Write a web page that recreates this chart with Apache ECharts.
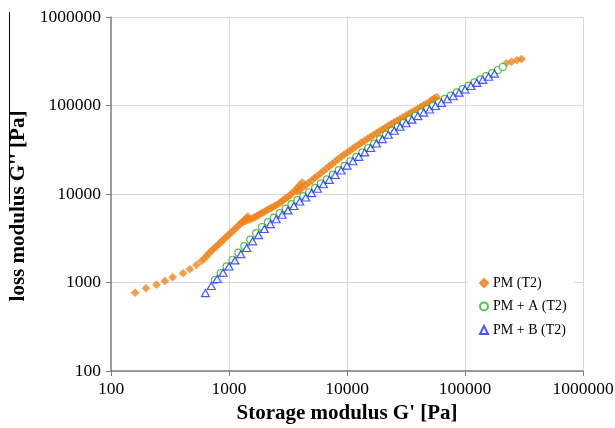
<!DOCTYPE html>
<html>
<head>
<meta charset="utf-8">
<title>Loss modulus vs storage modulus</title>
<script src="https://cdn.jsdelivr.net/npm/echarts@6/dist/echarts.min.js"></script>
<style>
  html, body { margin: 0; padding: 0; background: #fff; }
  #chart { width: 615px; height: 428px; }
</style>
</head>
<body>
<div id="chart"></div>
<script>
// Decade tick labels shared by both logarithmic axes
const tickLabels = ['100', '1000', '10000', '100000', '1000000'];

const seriesNames = ['PM (T2)', 'PM + A (T2)', 'PM + B (T2)'];

// PM (T2): [G' (Pa), G'' (Pa)]
const pmLowEnd = [
  [160, 767], [198, 859], [243, 944], [286, 1040], [333, 1145],
  [408, 1270], [466, 1410], [530, 1577], [585, 1750]
];
const pmRunA = [
  [617, 1862], [646, 1995], [676, 2138], [708, 2265], [741, 2399],
  [776, 2541], [813, 2692], [851, 2851], [891, 3020], [933, 3199],
  [977, 3388], [1023, 3589], [1072, 3802], [1122, 4027], [1175, 4266],
  [1230, 4519], [1288, 4786], [1349, 5070], [1413, 5370], [1445, 5559]
];
const pmRunB = [
  [1318, 4842], [1380, 4955], [1445, 5070], [1514, 5188], [1585, 5309],
  [1660, 5495], [1738, 5689], [1820, 5888], [1905, 6095], [1995, 6310],
  [2089, 6531], [2188, 6761], [2291, 6998], [2399, 7244], [2512, 7499],
  [2630, 7762], [2754, 8128], [2884, 8511], [3020, 8913], [3162, 9333],
  [3311, 9772], [3467, 10350], [3631, 10960], [3802, 11750], [3981, 12590],
  [4169, 13490]
];
const pmRunC = [
  [3802, 10720], [3981, 11220], [4217, 11890], [4467, 12590], [4732, 13400],
  [5012, 14220], [5309, 15140], [5623, 16110], [5957, 17100], [6310, 18200],
  [6683, 19360], [7079, 20560], [7499, 21880], [7943, 23280], [8414, 24720],
  [8913, 26300], [9441, 27730], [10000, 29310], [10590, 30900], [11220, 32580],
  [11890, 34430], [12590, 36310], [13340, 38190], [14130, 40090], [14960, 42170],
  [15850, 44360], [16790, 46560], [17780, 48980], [18840, 51290], [19950, 53700],
  [21130, 56230], [22390, 58880], [23710, 61660], [25120, 64570], [26610, 67450],
  [28180, 70470], [29850, 73620], [31620, 77090], [33500, 80540], [35480, 84140],
  [37580, 87900], [39810, 91830], [42170, 95940], [44670, 100500], [47320, 105000],
  [50120, 109600], [52480, 116100], [54950, 120200], [57540, 124500]
];
const pmHighEnd = [
  [223900, 300600], [248300, 312600], [275400, 325100], [302000, 335000]
];

// PM + A (T2)
const pmA = [
  [759, 1067], [851, 1279], [955, 1521], [1072, 1807], [1202, 2173],
  [1349, 2582], [1514, 3055], [1698, 3606], [1905, 4236], [2138, 4819],
  [2399, 5408], [2692, 6095], [3020, 6839], [3388, 7674], [3802, 8511],
  [4266, 9484], [4786, 10470], [5370, 11750], [6026, 13180], [6761, 14620],
  [7586, 16520], [8511, 18620], [9550, 20800], [10720, 23440], [12020, 26300],
  [13490, 29510], [15140, 33110], [16980, 37150], [19050, 41690], [21380, 46770],
  [23990, 52120], [26920, 57810], [30200, 63680], [33880, 69820], [38020, 76560],
  [42660, 83950], [47860, 91410], [53700, 99770], [60260, 108600], [67610, 118600],
  [75860, 129100], [85110, 140900], [95500, 153500], [107200, 167500], [120200, 182400],
  [134900, 197700], [151400, 214300], [169800, 232300], [190500, 251800], [208900, 272300]
];

// PM + B (T2)
const pmB = [
  [631, 759], [708, 912], [794, 1096], [891, 1288], [1000, 1514],
  [1122, 1778], [1259, 2089], [1413, 2455], [1585, 2917], [1778, 3428],
  [1995, 4027], [2239, 4571], [2512, 5188], [2818, 5821], [3162, 6531],
  [3548, 7328], [3981, 8222], [4467, 9120], [5012, 10230], [5623, 11480],
  [6310, 12880], [7079, 14450], [7943, 16410], [8913, 18410], [10000, 20890],
  [11220, 23440], [12590, 26300], [14130, 29510], [15850, 33110], [17780, 37150],
  [19950, 41690], [22390, 46770], [25120, 51880], [28180, 57540], [31620, 63100],
  [35480, 69180], [39810, 75860], [44670, 83180], [50120, 90160], [56230, 98860],
  [63100, 107200], [70790, 117500], [79430, 127400], [89130, 139600], [100000, 151400],
  [112200, 166000], [125900, 179900], [141300, 195000], [158500, 211300], [177800, 229100]
];

const pmAll = pmLowEnd.concat(pmRunA, pmRunB, pmRunC, pmHighEnd);

const serif = "'Liberation Serif', 'Times New Roman', serif";

function decadeLabel(v) {
  const i = Math.round(Math.log10(v)) - 2;
  return tickLabels[i] !== undefined ? tickLabels[i] : '';
}

const gridColor = '#D9D9D9';
const axisColor = '#808080';

function logAxis(extra) {
  return Object.assign({
    type: 'log',
    logBase: 10,
    min: 100,
    max: 1000000,
    splitNumber: 4,
    axisLine: { show: true, lineStyle: { color: axisColor, width: 1.5 } },
    axisTick: { show: true, inside: false, length: 5, lineStyle: { color: axisColor, width: 1 } },
    minorTick: { show: false },
    splitLine: { show: true, lineStyle: { color: gridColor, width: 1 } },
    axisLabel: {
      formatter: decadeLabel,
      color: '#000',
      fontFamily: serif,
      fontSize: 17.5
    },
    nameTextStyle: {
      color: '#000',
      fontFamily: serif,
      fontSize: 21,
      fontWeight: 'bold'
    }
  }, extra);
}

const chart = echarts.init(document.getElementById('chart'), null, { renderer: 'canvas' });

chart.setOption({
  animation: false,
  backgroundColor: '#fff',
  grid: { left: 111, right: 32, top: 17, bottom: 57, containLabel: false, outerBoundsMode: 'none' },
  xAxis: logAxis({
    name: "Storage modulus G' [Pa]",
    nameLocation: 'middle',
    nameGap: 31,
    axisLabel: { formatter: decadeLabel, color: '#000', fontFamily: serif, fontSize: 17.5, margin: 9 }
  }),
  yAxis: logAxis({
    name: "loss modulus G'' [Pa]",
    nameLocation: 'middle',
    nameGap: 82,
    nameRotate: 90,
    axisLabel: { formatter: decadeLabel, color: '#000', fontFamily: serif, fontSize: 17.5, margin: 10 },
    nameTextStyle: {
      color: '#000', fontFamily: serif, fontSize: 21, fontWeight: 'bold',
      padding: [0, 24, 0, 0]
    }
  }),
  legend: {
    orient: 'vertical',
    left: 468,
    top: 269,
    padding: [6, 8, 6, 11],
    itemGap: 7.5,
    itemWidth: 8,
    itemHeight: 8,
    backgroundColor: '#fff',
    data: seriesNames,
    textStyle: { color: '#000', fontFamily: serif, fontSize: 14, lineHeight: 16 }
  },
  series: [
    {
      name: seriesNames[0],
      type: 'scatter',
      symbol: 'diamond',
      symbolSize: 8,
      data: pmAll,
      itemStyle: { color: '#F2861C', borderColor: '#EE7D14', borderWidth: 0.5 },
      z: 2
    },
    {
      name: seriesNames[1],
      type: 'scatter',
      symbol: 'circle',
      symbolSize: 7,
      data: pmA,
      itemStyle: { color: '#FFFFFF', borderColor: '#27B327', borderWidth: 1.2 },
      z: 3
    },
    {
      name: seriesNames[2],
      type: 'scatter',
      symbol: 'triangle',
      symbolSize: [8, 7],
      data: pmB,
      itemStyle: { color: '#FFFFFF', borderColor: '#1B2EFF', borderWidth: 1.2 },
      z: 4
    }
  ],
  graphic: [
    {
      type: 'line',
      shape: { x1: 9.5, y1: 12, x2: 9.5, y2: 204 },
      style: { stroke: '#000', lineWidth: 1 },
      silent: true
    }
  ]
});
</script>
</body>
</html>
